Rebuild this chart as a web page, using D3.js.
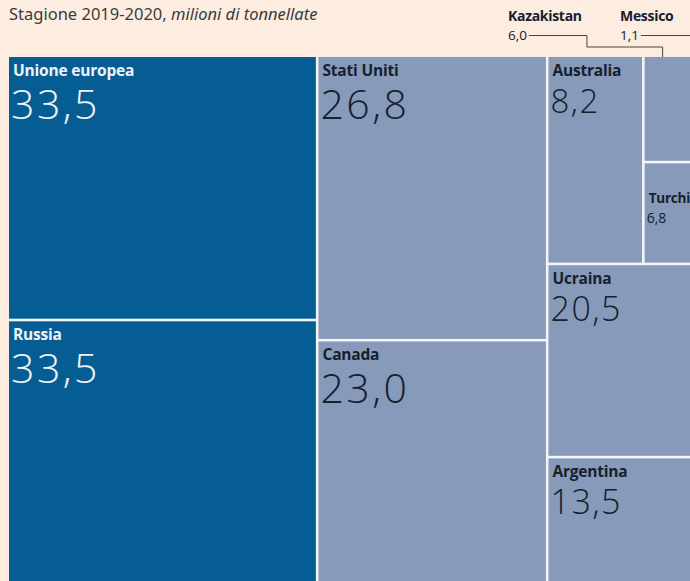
<!DOCTYPE html>
<html><head><meta charset="utf-8">
<script src="https://cdn.jsdelivr.net/npm/d3@7"></script>
<style>
html,body{margin:0;padding:0;background:#fcede0;overflow:hidden}
svg{display:block}
</style></head><body>
<svg id="chart" width="690" height="581"></svg>
<script>
// ---- data ----
const countries = ["Unione europea","Russia","Stati Uniti","Canada","Australia","Kazakistan","Messico","Turchia","Ucraina","Argentina"];
const production = [33.5,33.5,26.8,23.0,8.2,6.0,1.1,6.8,20.5,13.5];
const bigProducers = ["Unione europea","Russia"];
const externalLabels = ["Kazakistan","Messico"];
// grouping of the tiles (columns, then nested blocks)
const layoutGroups = [
  ["Unione europea","Russia"],
  ["Stati Uniti","Canada"],
  [["Australia",[["Kazakistan","Messico"],"Turchia"]],"Ucraina","Argentina"]
];
const titleMain = "Stagione 2019-2020,";
const titleUnit = " milioni di tonnellate";

// ---- build ----
const valueOf = new Map(countries.map((c,i)=>[c,production[i]]));
function build(n){ return Array.isArray(n) ? {children:n.map(build)} : {name:n, value:valueOf.get(n)}; }
const root = d3.hierarchy(build(layoutGroups)).sum(d=>d.value||0);

const W = 796, H = 526, X0 = 9, Y0 = 57;
d3.treemap().tile(d3.treemapSliceDice).size([W,H]).paddingInner(2.6).round(false)(root);

const it = d3.formatLocale({decimal:",",thousands:".",grouping:[3],currency:["","€"]});
const fmt = it.format(".1f");

const LBL = "'Open Sans', sans-serif";
const NUM = "'Open Sans', sans-serif";

const svg = d3.select("#chart");
// title
const t = svg.append("text").attr("x",9).attr("y",20)
  .attr("font-family","'Noto Sans', 'Open Sans', sans-serif").attr("font-size",16.5).attr("fill","#3b3b3b");
t.append("tspan").text(titleMain);
t.append("tspan").attr("font-style","italic").text(titleUnit);

const g = svg.append("g").attr("transform",`translate(${X0},${Y0})`);
g.append("rect").attr("width",W).attr("height",H).attr("fill","#f3f5f8");

const leaves = root.leaves();
const isBig = d=>bigProducers.includes(d.data.name);
const valueSize = d3.scaleThreshold().domain([8,13,23]).range([14,33,34,41]);
const labelSize = d3.scaleThreshold().domain([8]).range([13.5,15.5]);

const cell = g.selectAll("g.cell").data(leaves).join("g").attr("class","cell")
  .attr("transform",d=>`translate(${d.x0},${d.y0})`);
cell.append("rect").attr("width",d=>d.x1-d.x0).attr("height",d=>d.y1-d.y0)
  .attr("fill",d=>isBig(d)?"#065d94":"#879ab9");

const inner = cell.filter(d=>!externalLabels.includes(d.data.name));
inner.append("text").attr("x",4).attr("y",d=>d.value<8?40:19)
  .attr("font-family",LBL).attr("font-weight",700)
  .attr("font-size",d=>labelSize(d.value)).attr("letter-spacing",-0.2)
  .attr("fill",d=>isBig(d)?"#eef3f8":"#16202e").text(d=>d.data.name);
inner.append("text").attr("x",2).attr("y",d=>d.value<8?60:(d.value<23?56:62))
  .attr("font-family",NUM).attr("font-weight",d=>d.value<8?400:300)
  .attr("font-size",d=>valueSize(d.value))
  .attr("letter-spacing",d=>d.value<8?0:(d.value<23?1.5:2.5))
  .attr("fill",d=>isBig(d)?"#eef3f8":"#16202e").text(d=>fmt(d.value));

// external labels with leader lines
const annX = {"Kazakistan":508,"Messico":620};
const ext = leaves.filter(d=>externalLabels.includes(d.data.name));
const ann = svg.append("g");
ext.forEach(d=>{
  const lx = annX[d.data.name];
  ann.append("text").attr("x",lx).attr("y",21).attr("font-family",LBL)
    .attr("font-weight",700).attr("font-size",14).attr("letter-spacing",-0.3).attr("fill","#16202e").text(d.data.name);
  const vt = ann.append("text").attr("x",lx).attr("y",40).attr("font-family",NUM)
    .attr("font-size",13.5).attr("fill","#16202e").text(fmt(d.value));
  const tw = vt.node().getComputedTextLength();
  const sx = lx + tw + 2, ly = 35.5;
  const tx = X0 + d.x0 + Math.min(18,(d.x1-d.x0)/2);
  const path = d.data.name==="Kazakistan"
    ? `M${sx},${ly}H${sx+58}V${47}H${tx}V${Y0}`
    : `M${sx},${ly}H${tx}V${Y0}`;
  ann.append("path").attr("d",path).attr("fill","none").attr("stroke","#333").attr("stroke-width",0.9);
});
</script>
</body></html>
